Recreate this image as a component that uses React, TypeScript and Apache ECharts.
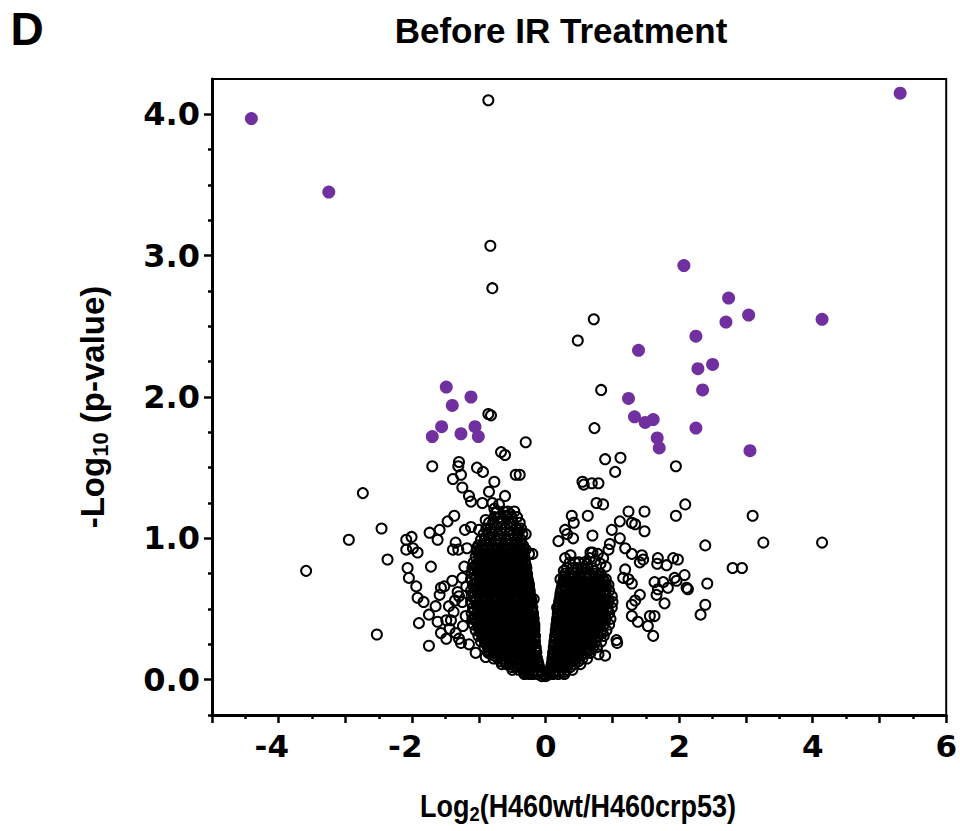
import React, { useEffect, useRef } from "react";
import * as echarts from "echarts";

// ---------- axis ticks ----------
const yMajorTicks = [0, 1, 2, 3, 4];
const yMinorTicks = [-0.25, 0.25, 0.5, 0.75, 1.25, 1.5, 1.75, 2.25, 2.5, 2.75, 3.25, 3.5, 3.75];
const xLabelValues = [-4, -2, 0, 2, 4, 6];

// ---------- significant proteins (purple, filled) ----------
const sigUp: [number, number][] = [
  [5.31, 4.15], [2.07, 2.93], [2.74, 2.70], [3.04, 2.58], [2.70, 2.53], [2.25, 2.43],
  [4.14, 2.55], [1.39, 2.33], [2.50, 2.23], [2.28, 2.20], [2.35, 2.05], [1.24, 1.99],
  [1.33, 1.86], [1.49, 1.82], [1.61, 1.84], [2.25, 1.78], [1.67, 1.71], [1.70, 1.64],
  [3.06, 1.62],
];
const sigDown: [number, number][] = [
  [-4.41, 3.97], [-3.25, 3.45], [-1.49, 2.07], [-1.12, 2.00], [-1.40, 1.94],
  [-1.56, 1.79], [-1.70, 1.72], [-1.27, 1.74], [-1.06, 1.79], [-1.01, 1.72],
];

// ---------- non-significant proteins (open circles) ----------
const topOutliers: [number, number][] = [
  [-0.86, 4.10], [-0.83, 3.07], [-0.80, 2.77], [0.72, 2.55], [0.48, 2.40], [0.83, 2.05],
  [0.73, 1.78], [-0.86, 1.88], [-0.82, 1.87], [-0.30, 1.68], [-0.67, 1.61], [-0.61, 1.59],
  [-1.70, 1.51], [-1.30, 1.54], [-1.31, 1.51], [-1.27, 1.45], [-1.03, 1.50], [-0.94, 1.47],
  [0.89, 1.56], [1.12, 1.57], [1.04, 1.47], [1.95, 1.51], [-0.45, 1.45], [-0.39, 1.45],
  [-1.39, 1.42], [-0.77, 1.40], [0.55, 1.40], [0.57, 1.38], [0.69, 1.39], [0.79, 1.39],
  [-1.25, 1.36], [-0.61, 1.30], [-1.15, 1.30], [-1.12, 1.26], [-0.85, 1.33], [-0.95, 1.25],
  [-0.80, 1.25], [0.76, 1.25], [0.86, 1.24], [2.09, 1.24], [1.95, 1.16], [1.24, 1.19],
  [1.48, 1.19], [0.39, 1.16], [0.63, 1.16],
];

const leftSparse: [number, number][] = [
  [-2.46, 1.07], [-2.74, 1.32], [-2.95, 0.99], [-2.37, 0.85], [-3.59, 0.77], [-2.53, 0.32],
  [-2.09, 0.99], [-2.01, 1.01], [-2.09, 0.92], [-1.99, 0.93], [-1.92, 0.90], [-1.74, 1.04],
  [-1.59, 1.06], [-1.62, 0.99], [-1.47, 1.12], [-1.37, 1.16], [-1.72, 0.80], [-2.07, 0.79],
  [-2.05, 0.72], [-1.94, 0.66], [-1.92, 0.58], [-1.83, 0.55], [-1.75, 0.46], [-1.90, 0.40],
  [-1.75, 0.24], [-1.65, 0.52], [-1.57, 0.65], [-1.52, 0.66], [-1.59, 0.60], [-1.62, 0.41],
  [-1.57, 0.33], [-1.49, 0.42], [-1.42, 0.42], [-1.35, 0.97], [-1.31, 0.92], [-1.39, 0.92],
  [-1.18, 0.93], [-1.03, 0.93], [-1.21, 1.06], [-1.12, 1.08], [-1.00, 1.06], [-0.90, 1.13],
  [-1.32, 0.62], [-1.30, 0.59], [-1.36, 0.56], [-1.25, 0.55], [-1.35, 0.33], [-1.30, 0.29],
  [-1.27, 0.26], [-1.15, 0.25], [-1.05, 0.19], [-1.49, 0.29], [-0.90, 0.16], [-0.77, 1.21],
  [-0.70, 1.24], [-0.75, 1.18], [-0.60, 1.16], [-0.53, 1.17], [-0.40, 1.06], [-0.30, 1.03],
  [-0.38, 0.96], [-0.30, 0.92], [-0.25, 0.89], [-0.20, 0.89], [-0.30, 0.78], [-0.18, 0.57],
  [-1.22, 0.80], [-1.25, 0.72], [-1.20, 0.45], [-1.24, 0.38], [-1.19, 0.66], [-1.40, 0.70],
  [-1.45, 0.52], [-1.38, 0.48], [-1.44, 0.36],
];

const rightSparse: [number, number][] = [
  [1.11, 1.12], [1.29, 1.11], [1.34, 1.10], [1.48, 1.05], [0.99, 1.06], [0.70, 1.02],
  [1.11, 1.00], [1.19, 0.93], [1.29, 0.89], [1.44, 0.88], [1.46, 0.85], [1.41, 0.83],
  [0.96, 0.96], [0.94, 0.92], [1.68, 0.86], [1.81, 0.81], [1.91, 0.86], [1.98, 0.85],
  [1.67, 0.82], [1.93, 0.72], [2.08, 0.74], [1.96, 0.70], [2.11, 0.65], [2.13, 0.64],
  [1.76, 0.69], [1.83, 0.65], [1.68, 0.64], [1.66, 0.60], [1.78, 0.54], [1.19, 0.78],
  [1.24, 0.71], [1.16, 0.72], [1.29, 0.68], [1.41, 0.60], [1.34, 0.56], [1.29, 0.53],
  [1.29, 0.45], [1.38, 0.41], [1.56, 0.45], [1.63, 0.45], [1.53, 0.38], [1.61, 0.31],
  [1.06, 0.28], [1.07, 0.26], [0.89, 0.17], [0.79, 0.18], [0.29, 1.06], [0.32, 1.03],
  [0.19, 0.98], [0.41, 1.00], [0.29, 0.86], [0.37, 0.88], [0.67, 0.90], [0.27, 0.77],
  [0.22, 0.71], [0.42, 1.11], [0.59, 0.78], [0.17, 0.51], [1.63, 0.69], [3.10, 1.16],
  [2.39, 0.95], [3.26, 0.97], [4.14, 0.97], [2.80, 0.79], [2.94, 0.79], [2.42, 0.68],
  [2.39, 0.53], [2.32, 0.46], [0.66, 0.86], [0.74, 0.84], [0.82, 0.82], [0.90, 0.80],
  [0.70, 0.90], [0.78, 0.89], [0.62, 0.82], [0.86, 0.86],
];

// dense "V" core, read row by row (y, x values)
const leftCoreRows: [number, number[]][] = [
  [1.19, [-0.73, -0.63, -0.57, -0.47]],
  [1.15, [-0.77, -0.69, -0.59, -0.51, -0.43]],
  [1.11, [-0.85, -0.79, -0.71, -0.65, -0.55, -0.49, -0.39]],
  [1.07, [-0.89, -0.83, -0.77, -0.67, -0.61, -0.53, -0.45, -0.37]],
  [1.03, [-0.93, -0.87, -0.81, -0.71, -0.65, -0.55, -0.49, -0.41, -0.35]],
  [0.99, [-0.97, -0.91, -0.85, -0.75, -0.69, -0.59, -0.53, -0.43, -0.37]],
  [0.95, [-1.01, -0.95, -0.89, -0.79, -0.73, -0.63, -0.57, -0.47, -0.41, -0.34]],
  [0.93, [-0.97, -0.87, -0.81, -0.71, -0.65, -0.55, -0.49, -0.39, -0.34]],
  [0.91, [-1.03, -0.99, -0.93, -0.83, -0.77, -0.67, -0.61, -0.51, -0.45, -0.35]],
  [0.89, [-1.01, -0.91, -0.85, -0.75, -0.69, -0.59, -0.53, -0.43, -0.37, -0.33]],
  [0.87, [-1.05, -0.97, -0.87, -0.81, -0.71, -0.65, -0.55, -0.49, -0.39, -0.32]],
  [0.85, [-0.99, -0.93, -0.83, -0.77, -0.67, -0.61, -0.51, -0.45, -0.35]],
  [0.83, [-1.08, -1.01, -0.91, -0.85, -0.75, -0.69, -0.59, -0.53, -0.43, -0.37, -0.31]],
  [0.81, [-1.05, -0.95, -0.89, -0.79, -0.73, -0.63, -0.57, -0.47, -0.41, -0.30]],
  [0.79, [-1.10, -1.03, -0.97, -0.87, -0.81, -0.71, -0.65, -0.55, -0.49, -0.39, -0.33, -0.29]],
  [0.77, [-1.01, -0.95, -0.85, -0.79, -0.69, -0.63, -0.53, -0.47, -0.37, -0.31]],
  [0.75, [-1.11, -1.07, -0.99, -0.93, -0.83, -0.77, -0.67, -0.61, -0.51, -0.45, -0.35, -0.28]],
  [0.73, [-0.99, -0.93, -0.83, -0.77, -0.67, -0.61, -0.51, -0.45, -0.35, -0.28]],
  [0.71, [-1.12, -1.05, -0.95, -0.89, -0.79, -0.73, -0.63, -0.57, -0.47, -0.41, -0.31, -0.27]],
  [0.69, [-1.03, -0.97, -0.87, -0.81, -0.71, -0.65, -0.55, -0.49, -0.39, -0.33, -0.26]],
  [0.67, [-1.09, -1.01, -0.91, -0.85, -0.75, -0.69, -0.59, -0.53, -0.43, -0.37, -0.29, -0.25]],
  [0.65, [-1.07, -0.99, -0.93, -0.83, -0.77, -0.67, -0.61, -0.51, -0.45, -0.35, -0.29, -0.25]],
  [0.63, [-1.12, -1.03, -0.97, -0.87, -0.81, -0.71, -0.65, -0.55, -0.49, -0.39, -0.33, -0.24]],
  [0.61, [-1.01, -0.95, -0.85, -0.79, -0.69, -0.63, -0.53, -0.47, -0.37, -0.31, -0.24]],
  [0.59, [-1.11, -1.07, -0.99, -0.93, -0.83, -0.77, -0.67, -0.61, -0.51, -0.45, -0.35, -0.29, -0.23]],
  [0.57, [-1.05, -0.97, -0.89, -0.81, -0.75, -0.65, -0.59, -0.49, -0.43, -0.33, -0.27, -0.22]],
  [0.55, [-1.12, -1.05, -0.95, -0.89, -0.79, -0.73, -0.63, -0.57, -0.47, -0.41, -0.31, -0.25, -0.21]],
  [0.53, [-1.03, -0.97, -0.87, -0.81, -0.71, -0.65, -0.55, -0.49, -0.39, -0.33, -0.23]],
  [0.51, [-1.09, -1.01, -0.91, -0.85, -0.75, -0.69, -0.59, -0.53, -0.43, -0.37, -0.27, -0.20]],
  [0.49, [-1.07, -0.99, -0.93, -0.83, -0.77, -0.67, -0.61, -0.51, -0.45, -0.35, -0.29, -0.21]],
  [0.47, [-1.11, -1.03, -0.97, -0.87, -0.81, -0.71, -0.65, -0.55, -0.49, -0.39, -0.33, -0.25, -0.19]],
  [0.45, [-1.01, -0.95, -0.85, -0.79, -0.69, -0.63, -0.53, -0.47, -0.37, -0.31, -0.23, -0.19]],
  [0.43, [-1.10, -1.07, -0.99, -0.93, -0.83, -0.77, -0.67, -0.61, -0.51, -0.45, -0.35, -0.29, -0.21, -0.18]],
  [0.41, [-1.03, -0.97, -0.89, -0.81, -0.75, -0.65, -0.59, -0.49, -0.43, -0.33, -0.27, -0.19]],
  [0.39, [-1.08, -1.01, -0.95, -0.87, -0.79, -0.73, -0.63, -0.57, -0.47, -0.41, -0.31, -0.25, -0.17]],
  [0.37, [-1.01, -0.93, -0.87, -0.77, -0.71, -0.61, -0.55, -0.45, -0.39, -0.29, -0.23, -0.17]],
  [0.35, [-1.05, -0.99, -0.91, -0.85, -0.75, -0.69, -0.59, -0.53, -0.43, -0.37, -0.27, -0.21, -0.17]],
  [0.33, [-0.97, -0.89, -0.83, -0.73, -0.67, -0.57, -0.51, -0.41, -0.35, -0.25, -0.19]],
  [0.31, [-1.01, -0.95, -0.87, -0.81, -0.71, -0.65, -0.55, -0.49, -0.39, -0.33, -0.23, -0.16]],
  [0.29, [-0.93, -0.85, -0.79, -0.69, -0.63, -0.53, -0.47, -0.37, -0.31, -0.23, -0.17]],
  [0.27, [-0.97, -0.91, -0.83, -0.77, -0.67, -0.61, -0.51, -0.45, -0.35, -0.29, -0.21, -0.16]],
  [0.25, [-0.89, -0.81, -0.75, -0.65, -0.59, -0.49, -0.43, -0.33, -0.27, -0.19]],
  [0.23, [-0.92, -0.87, -0.79, -0.73, -0.63, -0.57, -0.47, -0.41, -0.31, -0.25, -0.15]],
  [0.21, [-0.85, -0.77, -0.71, -0.61, -0.55, -0.45, -0.39, -0.29, -0.23, -0.15]],
  [0.19, [-0.86, -0.83, -0.75, -0.69, -0.59, -0.53, -0.43, -0.37, -0.27, -0.21, -0.14]],
  [0.17, [-0.77, -0.69, -0.63, -0.53, -0.47, -0.37, -0.31, -0.21, -0.15]],
  [0.15, [-0.78, -0.71, -0.65, -0.55, -0.49, -0.39, -0.33, -0.23, -0.17, -0.13]],
  [0.13, [-0.67, -0.61, -0.51, -0.45, -0.35, -0.29, -0.19, -0.12]],
  [0.11, [-0.66, -0.59, -0.53, -0.43, -0.37, -0.27, -0.21, -0.11]],
  [0.09, [-0.51, -0.45, -0.35, -0.29, -0.19, -0.10]],
  [0.07, [-0.50, -0.41, -0.33, -0.25, -0.17, -0.08]],
  [0.055, [-0.33, -0.27, -0.20, -0.13, -0.06]],
  [0.04, [-0.32, -0.25, -0.19, -0.12, -0.04]],
  [0.025, [-0.06, 0.0]],
];

const rightCoreRows: [number, number[]][] = [
  [0.83, [0.36, 0.44, 0.50, 0.58]],
  [0.79, [0.32, 0.40, 0.47, 0.54, 0.63, 0.70]],
  [0.75, [0.29, 0.36, 0.43, 0.52, 0.59, 0.66, 0.75, 0.82]],
  [0.73, [0.28, 0.34, 0.41, 0.49, 0.57, 0.65, 0.73, 0.81]],
  [0.71, [0.27, 0.31, 0.40, 0.47, 0.54, 0.63, 0.72, 0.79, 0.86, 0.90]],
  [0.69, [0.26, 0.33, 0.41, 0.49, 0.57, 0.65, 0.73, 0.81, 0.88]],
  [0.67, [0.25, 0.35, 0.44, 0.51, 0.58, 0.67, 0.76, 0.83, 0.90, 0.94]],
  [0.65, [0.24, 0.29, 0.37, 0.45, 0.53, 0.61, 0.69, 0.77, 0.85]],
  [0.63, [0.23, 0.30, 0.40, 0.46, 0.56, 0.62, 0.72, 0.78, 0.88, 0.95]],
  [0.61, [0.22, 0.33, 0.41, 0.49, 0.57, 0.65, 0.73, 0.81, 0.89]],
  [0.59, [0.22, 0.27, 0.35, 0.44, 0.51, 0.59, 0.68, 0.75, 0.82, 0.91, 0.99]],
  [0.57, [0.21, 0.29, 0.37, 0.45, 0.53, 0.61, 0.69, 0.77, 0.85, 0.93]],
  [0.55, [0.20, 0.31, 0.38, 0.47, 0.56, 0.63, 0.70, 0.79, 0.87, 0.94, 1.00]],
  [0.53, [0.20, 0.25, 0.33, 0.41, 0.49, 0.57, 0.65, 0.73, 0.81, 0.89]],
  [0.51, [0.19, 0.27, 0.36, 0.43, 0.51, 0.60, 0.67, 0.74, 0.83, 0.92, 0.99]],
  [0.49, [0.19, 0.29, 0.37, 0.45, 0.53, 0.61, 0.69, 0.77, 0.85, 0.93]],
  [0.47, [0.18, 0.23, 0.31, 0.40, 0.47, 0.54, 0.63, 0.71, 0.78, 0.87, 0.95]],
  [0.45, [0.18, 0.25, 0.33, 0.41, 0.49, 0.57, 0.65, 0.73, 0.81, 0.89]],
  [0.43, [0.17, 0.27, 0.35, 0.44, 0.51, 0.58, 0.67, 0.76, 0.83, 0.90, 0.97]],
  [0.41, [0.17, 0.21, 0.29, 0.37, 0.45, 0.53, 0.61, 0.69, 0.77, 0.85]],
  [0.39, [0.16, 0.23, 0.30, 0.39, 0.48, 0.55, 0.62, 0.71, 0.80, 0.87, 0.95]],
  [0.37, [0.16, 0.25, 0.33, 0.41, 0.49, 0.57, 0.65, 0.73, 0.81]],
  [0.35, [0.15, 0.19, 0.27, 0.36, 0.43, 0.51, 0.60, 0.67, 0.74, 0.83, 0.91]],
  [0.33, [0.15, 0.21, 0.29, 0.37, 0.45, 0.53, 0.61, 0.69, 0.77, 0.85]],
  [0.31, [0.14, 0.23, 0.31, 0.38, 0.47, 0.56, 0.63, 0.70, 0.79, 0.87]],
  [0.29, [0.14, 0.25, 0.33, 0.41, 0.49, 0.57, 0.65, 0.73]],
  [0.27, [0.13, 0.19, 0.27, 0.36, 0.43, 0.50, 0.59, 0.68, 0.75, 0.83]],
  [0.25, [0.13, 0.21, 0.29, 0.37, 0.45, 0.53, 0.61, 0.69]],
  [0.23, [0.12, 0.23, 0.30, 0.39, 0.48, 0.55, 0.62, 0.71, 0.77]],
  [0.21, [0.12, 0.17, 0.25, 0.33, 0.41, 0.49, 0.57, 0.65]],
  [0.19, [0.11, 0.19, 0.28, 0.35, 0.42, 0.51, 0.60, 0.67]],
  [0.17, [0.11, 0.21, 0.29, 0.37, 0.45, 0.53]],
  [0.15, [0.10, 0.15, 0.23, 0.32, 0.39, 0.46, 0.55, 0.62]],
  [0.13, [0.10, 0.17, 0.25, 0.33, 0.41, 0.49]],
  [0.11, [0.09, 0.19, 0.27, 0.34, 0.43, 0.52]],
  [0.09, [0.08, 0.13, 0.21, 0.29, 0.37]],
  [0.07, [0.07, 0.15, 0.24, 0.31, 0.40]],
  [0.055, [0.05, 0.13, 0.21, 0.28]],
  [0.04, [0.04, 0.11, 0.19, 0.28]],
];

const FONT_NUM = "DejaVu Sans";
const FONT_TXT = "Liberation Sans, Arial, sans-serif";

function rowsToPoints(rows: [number, number[]][]): [number, number][] {
  const out: [number, number][] = [];
  rows.forEach(([y, xs]) => xs.forEach((x) => out.push([x, y])));
  return out;
}

export default function App() {
  const ref = useRef<HTMLDivElement>(null);

  useEffect(() => {
    if (!ref.current) return;
    const chart = echarts.init(ref.current, undefined, { renderer: "svg" });

    const openPoints = [
      ...topOutliers,
      ...leftSparse,
      ...rightSparse,
      ...rowsToPoints(leftCoreRows),
      ...rowsToPoints(rightCoreRows),
    ];
    const sigPoints = [...sigDown, ...sigUp];

    const numStyle = { fontFamily: FONT_NUM, fontWeight: "bold" as const, fontSize: 32, color: "#000" };
    const lineStyle = { color: "#000", width: 3 };
    const tickStyle = { color: "#000", width: 2.5 };

    const option: any = {
      animation: false,
      backgroundColor: "#fff",
      grid: {
        left: 212, top: 79, width: 738, height: 636,
        show: true, borderColor: "#000", borderWidth: 2, backgroundColor: "transparent",
        containLabel: false,
      },
      xAxis: {
        type: "value", min: -5, max: 6, interval: 1,
        axisLine: { show: true, onZero: false, lineStyle },
        axisTick: { show: true, length: 8, lineStyle: tickStyle },
        minorTick: { show: true, splitNumber: 2, length: 4, lineStyle: tickStyle },
        splitLine: { show: false }, minorSplitLine: { show: false },
        axisLabel: {
          margin: 15,
          showMinLabel: true, showMaxLabel: true,
          formatter: (v: number) => {
            if (!xLabelValues.includes(v)) return "";
            return v < 0 ? `{neg|${v}}` : `{pos|${v}}`;
          },
          rich: {
            neg: { ...numStyle, fontSize: 31, padding: [0, 14, 0, 0] },
            pos: { ...numStyle, fontSize: 31 },
          },
        },
      },
      yAxis: [
        {
          type: "value", min: -0.25, max: 4.25,
          axisLine: { show: true, onZero: false, lineStyle },
          axisTick: { show: true, length: 8, lineStyle: tickStyle, customValues: yMajorTicks },
          axisLabel: {
            ...numStyle, margin: 12, customValues: yMajorTicks,
            formatter: (v: number) => v.toFixed(1),
          },
          splitLine: { show: false },
        },
        {
          type: "value", min: -0.25, max: 4.25, position: "left", offset: 0,
          axisLine: { show: false, onZero: false },
          axisTick: { show: true, length: 4, lineStyle: tickStyle, customValues: yMinorTicks },
          axisLabel: { show: false },
          splitLine: { show: false },
        },
      ],
      series: [
        {
          type: "scatter", data: openPoints, symbol: "circle", symbolSize: 10,
          itemStyle: { color: "rgba(0,0,0,0)", borderColor: "#000", borderWidth: 2, opacity: 1 },
          silent: true, z: 2,
        },
        {
          type: "scatter", data: sigPoints, symbol: "circle", symbolSize: 13,
          itemStyle: { color: "#7030A0", borderWidth: 0, opacity: 1 },
          silent: true, z: 3,
        },
      ],
      graphic: [
        {
          type: "text", x: 27, y: 29,
          style: { text: "D", fontFamily: FONT_TXT, fontWeight: "bold", fontSize: 46, fill: "#000", textAlign: "center", textVerticalAlign: "middle" },
        },
        {
          type: "text", x: 561, y: 30,
          style: { text: "Before IR Treatment", fontFamily: FONT_TXT, fontWeight: "bold", fontSize: 35, fill: "#000", textAlign: "center", textVerticalAlign: "middle" },
        },
        {
          type: "text", x: 578, y: 806, scaleX: 0.87,
          style: {
            text: "Log{sub|2}(H460wt/H460crp53)",
            fontFamily: FONT_TXT, fontWeight: "bold", fontSize: 31, fill: "#000",
            textAlign: "center", textVerticalAlign: "middle", lineHeight: 36,
            rich: {
              sub: { fontFamily: FONT_TXT, fontWeight: "bold", fontSize: 21, fill: "#000", lineHeight: 20, verticalAlign: "bottom" },
            },
          },
        },
        {
          type: "text", x: 92, y: 407, rotation: Math.PI / 2,
          style: {
            text: "-Log{sub|10} (p-value)",
            fontFamily: FONT_TXT, fontWeight: "bold", fontSize: 33, fill: "#000",
            textAlign: "center", textVerticalAlign: "middle", lineHeight: 38,
            rich: {
              sub: { fontFamily: FONT_TXT, fontWeight: "bold", fontSize: 22, fill: "#000", lineHeight: 22, verticalAlign: "bottom" },
            },
          },
        },
      ],
    };

    chart.setOption(option);
    return () => chart.dispose();
  }, []);

  return (
    <div
      ref={ref}
      style={{ position: "fixed", left: 0, top: 0, width: 960, height: 831, background: "#fff" }}
    />
  );
}
